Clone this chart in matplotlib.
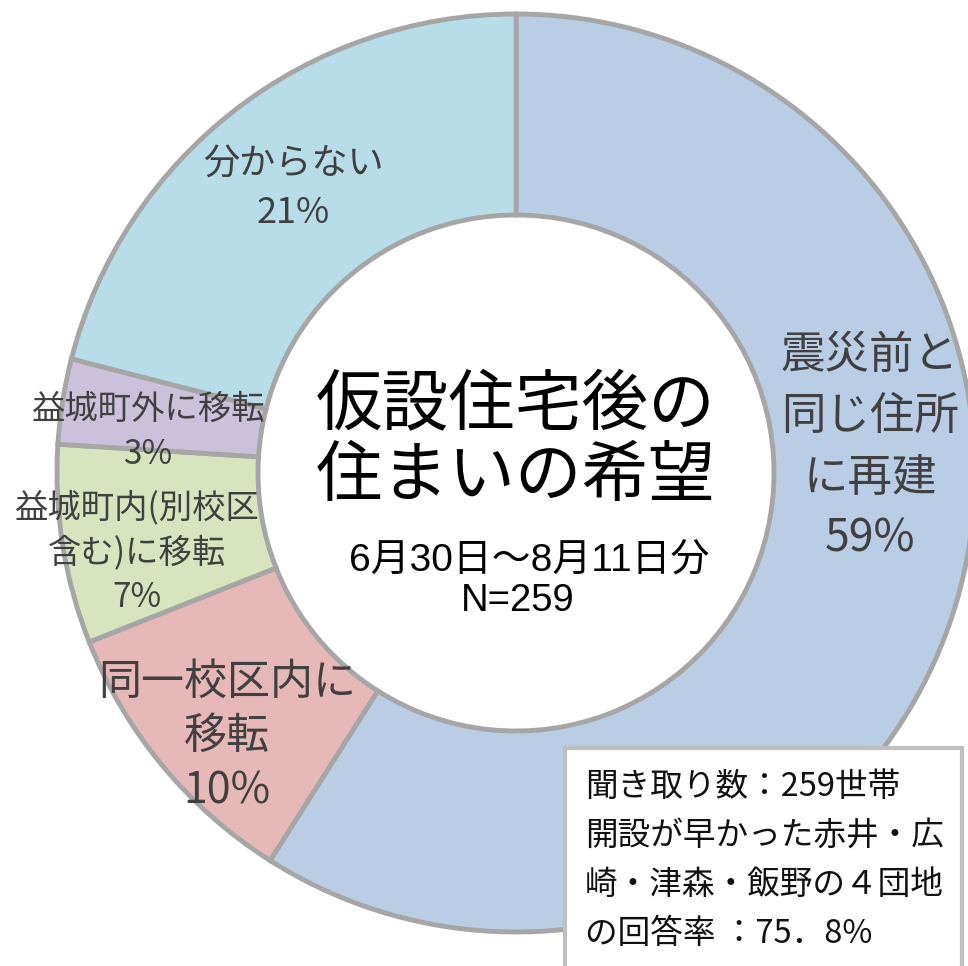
import matplotlib
matplotlib.use("Agg")
import matplotlib.pyplot as plt
from matplotlib.patches import Rectangle

plt.rcParams['font.family'] = ['Noto Sans CJK JP', 'DejaVu Sans']

# data
categories = ["震災前と\n同じ住所\nに再建", "同一校区内に\n移転", "益城町内(別校区\n含む)に移転", "益城町外に移転", "分からない"]
values = [59, 10, 7, 3, 21]
colors = ["#b9cde5", "#e6b9b8", "#d7e4bd", "#ccc1da", "#b7dee8"]
title_text = "仮設住宅後の\n住まいの希望"
period_text = "6月30日～8月11日分"
n_text = "N=259"
note_lines = ["聞き取り数：259世帯", "開設が早かった赤井・広", "崎・津森・飯野の４団地", "の回答率 ：75．8%"]

W, H = 968, 966
fig = plt.figure(figsize=(W / 100, H / 100), dpi=100)
ax = fig.add_axes([0, 0, 1, 1])

cx, cy = 516, H - 473
R, width = 459, 201
ax.pie(values, colors=colors, startangle=90, counterclock=False,
       radius=R, center=(cx, cy),
       wedgeprops=dict(width=width, edgecolor="#a6a6a6", linewidth=3.5))
ax.set_xlim(0, W)
ax.set_ylim(0, H)
ax.set_aspect('equal')
ax.axis('off')

lab_col = "#404040"

def Y(y):
    return H - y

# label positions (pixel coords of reference) and sizes
label_specs = [
    (870, 447, 32, 1.42),
    (227, 737, 31, 1.3),
    (137, 553, 24, 1.36),
    (148, 432, 24, 1.36),
    (293, 189, 26, 1.45),
]
for cat, v, (x, y, fs, ls) in zip(categories, values, label_specs):
    ax.text(x, Y(y), f"{cat}\n{v}%", ha='center', va='center', fontsize=fs,
            color=lab_col, linespacing=ls)

# centre title
ax.text(516, Y(442), title_text, ha='center', va='center', fontsize=48,
        color='black', linespacing=1.05)
ax.text(529, Y(561), period_text, ha='center', va='center', fontsize=28,
        color='black', family=['Liberation Sans', 'Noto Sans CJK JP'])
ax.text(518, Y(601), n_text, ha='center', va='center', fontsize=27.5,
        color='black', family=['Liberation Sans', 'Noto Sans CJK JP'])

# note box
ax.add_patch(Rectangle((565, Y(1000)), 397, 1000 - 748, facecolor='white',
                       edgecolor='#bfbfbf', linewidth=3, zorder=5))
for i, line in enumerate(note_lines):
    ax.text(585, Y(787 + i * 49), line, ha='left', va='center', fontsize=23.5,
            color='#111111', zorder=6)

fig.savefig("out.png", dpi=100)
